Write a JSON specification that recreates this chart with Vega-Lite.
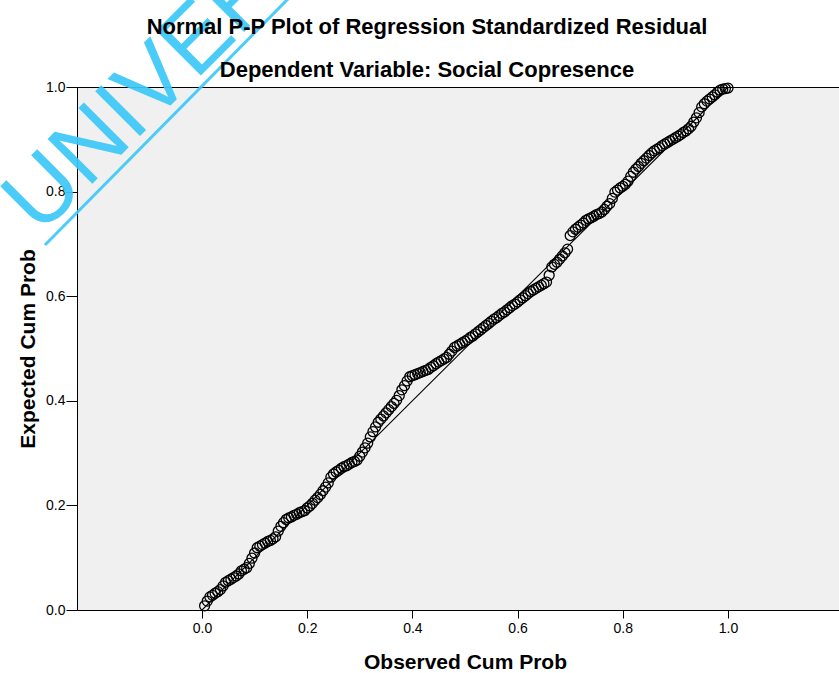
{
  "$schema": "https://vega.github.io/schema/vega-lite/v6.json",
  "width": 762,
  "height": 523,
  "autosize": {"type": "none"},
  "padding": {"left": 77, "top": 87, "right": 0, "bottom": 63},
  "background": "white",
  "title": {
    "text": "Normal P-P Plot of Regression Standardized Residual",
    "subtitle": "Dependent Variable: Social Copresence",
    "font": "Liberation Sans",
    "subtitleFont": "Liberation Sans",
    "fontSize": 22,
    "subtitleFontSize": 22,
    "fontWeight": "bold",
    "subtitleFontWeight": "bold",
    "color": "#000",
    "subtitleColor": "#000",
    "anchor": "middle",
    "dx": -31,
    "dy": 154,
    "offset": 10,
    "subtitlePadding": 21
  },
  "config": {
    "font": "Liberation Sans",
    "view": {"fill": "#F0F0F0", "stroke": "#000", "strokeWidth": 1},
    "axis": {
      "grid": false,
      "domainColor": "#000",
      "domainWidth": 1,
      "tickColor": "#000",
      "labelColor": "#000",
      "labelFont": "Liberation Sans",
      "labelFontSize": 14,
      "titleFont": "Liberation Sans",
      "titleFontSize": 21,
      "titleFontWeight": "bold",
      "titleColor": "#000"
    }
  },
  "datasets": {
    "pts": [
      {"o":0.005,"e":0.008},{"o":0.010,"e":0.017},{"o":0.015,"e":0.025},{"o":0.020,"e":0.028},{"o":0.025,"e":0.032},
      {"o":0.030,"e":0.035},{"o":0.035,"e":0.039},{"o":0.040,"e":0.046},{"o":0.045,"e":0.053},{"o":0.050,"e":0.056},
      {"o":0.055,"e":0.059},{"o":0.060,"e":0.062},{"o":0.065,"e":0.065},{"o":0.070,"e":0.069},{"o":0.075,"e":0.075},
      {"o":0.080,"e":0.078},{"o":0.085,"e":0.081},{"o":0.090,"e":0.089},{"o":0.095,"e":0.099},{"o":0.100,"e":0.109},
      {"o":0.105,"e":0.119},{"o":0.110,"e":0.122},{"o":0.115,"e":0.125},{"o":0.120,"e":0.128},{"o":0.125,"e":0.131},
      {"o":0.130,"e":0.133},{"o":0.135,"e":0.136},{"o":0.140,"e":0.140},{"o":0.145,"e":0.151},{"o":0.150,"e":0.160},
      {"o":0.155,"e":0.167},{"o":0.160,"e":0.173},{"o":0.165,"e":0.176},{"o":0.170,"e":0.178},{"o":0.175,"e":0.181},
      {"o":0.180,"e":0.183},{"o":0.185,"e":0.186},{"o":0.190,"e":0.188},{"o":0.195,"e":0.190},{"o":0.200,"e":0.195},
      {"o":0.205,"e":0.199},{"o":0.210,"e":0.204},{"o":0.215,"e":0.210},{"o":0.220,"e":0.215},{"o":0.225,"e":0.221},
      {"o":0.230,"e":0.228},{"o":0.235,"e":0.235},{"o":0.240,"e":0.243},{"o":0.245,"e":0.254},{"o":0.250,"e":0.260},
      {"o":0.255,"e":0.264},{"o":0.260,"e":0.267},{"o":0.265,"e":0.271},{"o":0.270,"e":0.274},{"o":0.275,"e":0.276},
      {"o":0.280,"e":0.279},{"o":0.285,"e":0.282},{"o":0.290,"e":0.284},{"o":0.295,"e":0.287},{"o":0.300,"e":0.294},
      {"o":0.305,"e":0.302},{"o":0.310,"e":0.310},{"o":0.315,"e":0.319},{"o":0.320,"e":0.331},{"o":0.325,"e":0.341},
      {"o":0.330,"e":0.350},{"o":0.335,"e":0.359},{"o":0.340,"e":0.365},{"o":0.345,"e":0.371},{"o":0.350,"e":0.377},
      {"o":0.355,"e":0.383},{"o":0.360,"e":0.389},{"o":0.365,"e":0.395},{"o":0.370,"e":0.401},{"o":0.375,"e":0.410},
      {"o":0.380,"e":0.421},{"o":0.385,"e":0.429},{"o":0.390,"e":0.438},{"o":0.395,"e":0.446},{"o":0.400,"e":0.448},
      {"o":0.405,"e":0.450},{"o":0.410,"e":0.452},{"o":0.415,"e":0.454},{"o":0.420,"e":0.456},{"o":0.425,"e":0.458},
      {"o":0.430,"e":0.460},{"o":0.435,"e":0.464},{"o":0.440,"e":0.467},{"o":0.445,"e":0.471},{"o":0.450,"e":0.474},
      {"o":0.455,"e":0.477},{"o":0.460,"e":0.480},{"o":0.465,"e":0.483},{"o":0.470,"e":0.489},{"o":0.475,"e":0.495},
      {"o":0.480,"e":0.502},{"o":0.485,"e":0.505},{"o":0.490,"e":0.508},{"o":0.495,"e":0.511},{"o":0.500,"e":0.514},
      {"o":0.505,"e":0.517},{"o":0.510,"e":0.521},{"o":0.515,"e":0.524},{"o":0.520,"e":0.528},{"o":0.525,"e":0.532},
      {"o":0.530,"e":0.536},{"o":0.535,"e":0.540},{"o":0.540,"e":0.544},{"o":0.545,"e":0.548},{"o":0.550,"e":0.552},
      {"o":0.555,"e":0.556},{"o":0.560,"e":0.559},{"o":0.565,"e":0.563},{"o":0.570,"e":0.567},{"o":0.575,"e":0.570},
      {"o":0.580,"e":0.574},{"o":0.585,"e":0.578},{"o":0.590,"e":0.582},{"o":0.595,"e":0.585},{"o":0.600,"e":0.589},
      {"o":0.605,"e":0.593},{"o":0.610,"e":0.597},{"o":0.615,"e":0.601},{"o":0.620,"e":0.605},{"o":0.625,"e":0.609},
      {"o":0.630,"e":0.612},{"o":0.635,"e":0.615},{"o":0.640,"e":0.618},{"o":0.645,"e":0.621},{"o":0.650,"e":0.624},
      {"o":0.655,"e":0.627},{"o":0.660,"e":0.640},{"o":0.665,"e":0.656},{"o":0.670,"e":0.661},{"o":0.675,"e":0.665},
      {"o":0.680,"e":0.671},{"o":0.685,"e":0.677},{"o":0.690,"e":0.683},{"o":0.695,"e":0.690},{"o":0.700,"e":0.716},
      {"o":0.705,"e":0.723},{"o":0.710,"e":0.728},{"o":0.715,"e":0.732},{"o":0.720,"e":0.736},{"o":0.725,"e":0.740},
      {"o":0.730,"e":0.745},{"o":0.735,"e":0.748},{"o":0.740,"e":0.750},{"o":0.745,"e":0.753},{"o":0.750,"e":0.756},
      {"o":0.755,"e":0.758},{"o":0.760,"e":0.761},{"o":0.765,"e":0.766},{"o":0.770,"e":0.772},{"o":0.775,"e":0.777},
      {"o":0.780,"e":0.787},{"o":0.785,"e":0.799},{"o":0.790,"e":0.803},{"o":0.795,"e":0.807},{"o":0.800,"e":0.810},
      {"o":0.805,"e":0.814},{"o":0.810,"e":0.820},{"o":0.815,"e":0.829},{"o":0.820,"e":0.837},{"o":0.825,"e":0.843},
      {"o":0.830,"e":0.848},{"o":0.835,"e":0.854},{"o":0.840,"e":0.859},{"o":0.845,"e":0.864},{"o":0.850,"e":0.869},
      {"o":0.855,"e":0.874},{"o":0.860,"e":0.878},{"o":0.865,"e":0.881},{"o":0.870,"e":0.884},{"o":0.875,"e":0.888},
      {"o":0.880,"e":0.891},{"o":0.885,"e":0.894},{"o":0.890,"e":0.897},{"o":0.895,"e":0.900},{"o":0.900,"e":0.903},
      {"o":0.905,"e":0.906},{"o":0.910,"e":0.909},{"o":0.915,"e":0.913},{"o":0.920,"e":0.916},{"o":0.925,"e":0.920},
      {"o":0.930,"e":0.925},{"o":0.935,"e":0.933},{"o":0.940,"e":0.941},{"o":0.945,"e":0.951},{"o":0.950,"e":0.962},
      {"o":0.955,"e":0.968},{"o":0.960,"e":0.973},{"o":0.965,"e":0.977},{"o":0.970,"e":0.981},{"o":0.975,"e":0.985},
      {"o":0.980,"e":0.990},{"o":0.985,"e":0.994},{"o":0.990,"e":0.996},{"o":0.995,"e":0.997},{"o":1.000,"e":0.998}
    ],
    "diag": [{"x0": 0, "y0": 0, "x1": 1, "y1": 1}],
    "wmline": [{"x0": -0.2985, "y0": 0.698, "x1": 0.171, "y1": 1.176}],
    "wmtext": [{"x0": -0.308, "y0": 0.715, "label": "UNIVER"}]
  },
  "layer": [
    {
      "data": {"name": "diag"},
      "mark": {"type": "rule", "color": "#000", "strokeWidth": 1.1},
      "encoding": {
        "x": {"field": "x0", "type": "quantitative", "scale": {"domain": [-0.2376, 1.211], "nice": false, "zero": false},
              "axis": {"values": [0, 0.2, 0.4, 0.6, 0.8, 1.0], "format": ".1f", "tickSize": 8, "labelPadding": 3, "title": "Observed Cum Prob", "titlePadding": 16, "titleX": 388}},
        "y": {"field": "y0", "type": "quantitative", "scale": {"domain": [0, 1], "nice": false, "zero": false},
              "axis": {"values": [0, 0.2, 0.4, 0.6, 0.8, 1.0], "format": ".1f", "tickSize": 11, "labelPadding": 1, "title": "Expected Cum Prob", "titlePadding": 7}},
        "x2": {"field": "x1"},
        "y2": {"field": "y1"}
      }
    },
    {
      "data": {"name": "pts"},
      "mark": {"type": "point", "shape": "circle", "filled": false, "size": 100, "stroke": "#000", "strokeWidth": 1.3, "opacity": 1},
      "encoding": {
        "x": {"field": "o", "type": "quantitative", "scale": {"domain": [-0.2376, 1.211], "nice": false, "zero": false}},
        "y": {"field": "e", "type": "quantitative", "scale": {"domain": [0, 1], "nice": false, "zero": false}}
      }
    },
    {
      "data": {"name": "wmline"},
      "mark": {"type": "rule", "color": "#3CC8F8", "strokeWidth": 3, "opacity": 0.92},
      "encoding": {
        "x": {"field": "x0", "type": "quantitative", "scale": {"domain": [-0.2376, 1.211], "nice": false, "zero": false}},
        "y": {"field": "y0", "type": "quantitative", "scale": {"domain": [0, 1], "nice": false, "zero": false}},
        "x2": {"field": "x1"},
        "y2": {"field": "y1"}
      }
    },
    {
      "data": {"name": "wmtext"},
      "mark": {"type": "text", "color": "#3CC8F8", "opacity": 0.92, "angle": -45, "fontSize": 92, "font": "Liberation Sans", "align": "left", "baseline": "alphabetic"},
      "encoding": {
        "x": {"field": "x0", "type": "quantitative", "scale": {"domain": [-0.2376, 1.211], "nice": false, "zero": false}},
        "y": {"field": "y0", "type": "quantitative", "scale": {"domain": [0, 1], "nice": false, "zero": false}},
        "text": {"field": "label"}
      }
    }
  ]
}
